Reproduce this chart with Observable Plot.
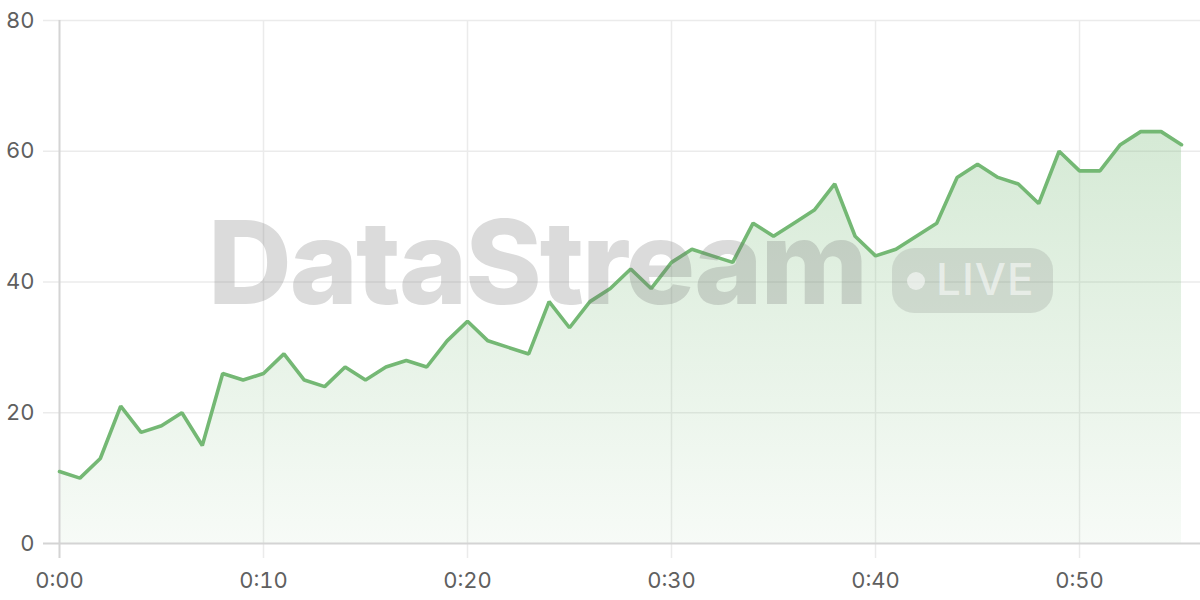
<!DOCTYPE html>
<html>
<head>
<meta charset="utf-8">
<script src="https://cdn.jsdelivr.net/npm/d3@7"></script>
<script src="https://cdn.jsdelivr.net/npm/@observablehq/plot@0.6"></script>
<style>
  html, body { margin: 0; padding: 0; background: #fff; }
  #wrap { position: relative; width: 1200px; height: 600px; overflow: hidden; }
  .wm { position: absolute; pointer-events: none; font-family: Inter, "DejaVu Sans", sans-serif; }
  .wm-title { left: 208px; top: 204px; font-size: 116px; font-weight: 800; letter-spacing: -2px; color: rgba(110,110,110,0.25); line-height: 1; white-space: nowrap; }
  .wm-pill { left: 892px; top: 248px; width: 161px; height: 65px; border-radius: 22px; background: rgba(100,100,100,0.17); }
  .wm-dot { position: absolute; left: 15px; top: 24px; width: 18px; height: 18px; border-radius: 50%; background: rgba(255,255,255,0.55); }
  .wm-live { position: absolute; left: 44px; top: 9px; font-size: 44px; font-weight: 500; color: rgba(255,255,255,0.55); line-height: 1; letter-spacing: 1px; }
</style>
</head>
<body>
<div id="wrap"></div>
<script>
// minutes since start
const minutes = d3.range(0, 56);
const values = [11,10,13,21,17,18,20,15,26,25,26,29,25,24,27,25,27,28,27,31,34,31,30,29,37,33,37,39,42,39,43,45,44,43,49,47,49,51,55,47,44,45,47,49,56,58,56,55,52,60,57,57,61,63,63,61];
const xTicks = [0, 10, 20, 30, 40, 50];
const yTicks = [0, 20, 40, 60, 80];
const fmtTime = m => `${Math.floor(m / 60)}:${String(m % 60).padStart(2, "0")}`;

const data = minutes.map((m, i) => ({m, v: values[i]}));

const lineColor = "#74b874";

const chart = Plot.plot({
  width: 1200,
  height: 600,
  marginTop: 20,
  marginBottom: 57,
  marginLeft: 59,
  marginRight: 0,
  style: {fontFamily: "Inter, 'DejaVu Sans', sans-serif", fontSize: "22px", color: "#5f5f5f", background: "#fff"},
  x: {domain: [0, 55.93], ticks: xTicks},
  y: {domain: [0, 80], ticks: yTicks},
  marks: [
    Plot.ruleY(yTicks.filter(t => t > 0), {stroke: "#ebebeb", strokeWidth: 1.5, insetLeft: -16}),
    Plot.ruleX(xTicks.filter(t => t > 0), {stroke: "#ebebeb", strokeWidth: 1.5, insetBottom: -15}),
    Plot.areaY(data, {x: "m", y: "v", fill: "url(#areaGrad)"}),
    Plot.ruleX([0], {stroke: "#d4d4d4", strokeWidth: 2, insetBottom: -15}),
    Plot.ruleY([0], {stroke: "#d4d4d4", strokeWidth: 2, insetLeft: -16}),
    Plot.lineY(data, {x: "m", y: "v", stroke: lineColor, strokeWidth: 3.6, strokeLinejoin: "miter"}),
    Plot.axisY({ticks: yTicks, tickSize: 0, tickPadding: 25, fontSize: 22, fill: "#5f5f5f", label: null}),
    Plot.axisX({ticks: xTicks, tickSize: 0, tickPadding: 29, tickFormat: fmtTime, fontSize: 22, fill: "#5f5f5f", label: null})
  ]
});

// gradient definition for the area fill
const svg = d3.select(chart);
const defs = svg.insert("defs", ":first-child");
const grad = defs.append("linearGradient").attr("id", "areaGrad")
  .attr("x1", 0).attr("y1", 0).attr("x2", 0).attr("y2", 1);
grad.append("stop").attr("offset", "0%").attr("stop-color", lineColor).attr("stop-opacity", 0.3);
grad.append("stop").attr("offset", "100%").attr("stop-color", lineColor).attr("stop-opacity", 0.06);

const wrap = document.getElementById("wrap");
wrap.appendChild(chart);

// watermark
const title = document.createElement("div");
title.className = "wm wm-title";
title.textContent = "DataStream";
wrap.appendChild(title);
const pill = document.createElement("div");
pill.className = "wm wm-pill";
pill.innerHTML = '<div class="wm-dot"></div><div class="wm-live">LIVE</div>';
wrap.appendChild(pill);
</script>
</body>
</html>
